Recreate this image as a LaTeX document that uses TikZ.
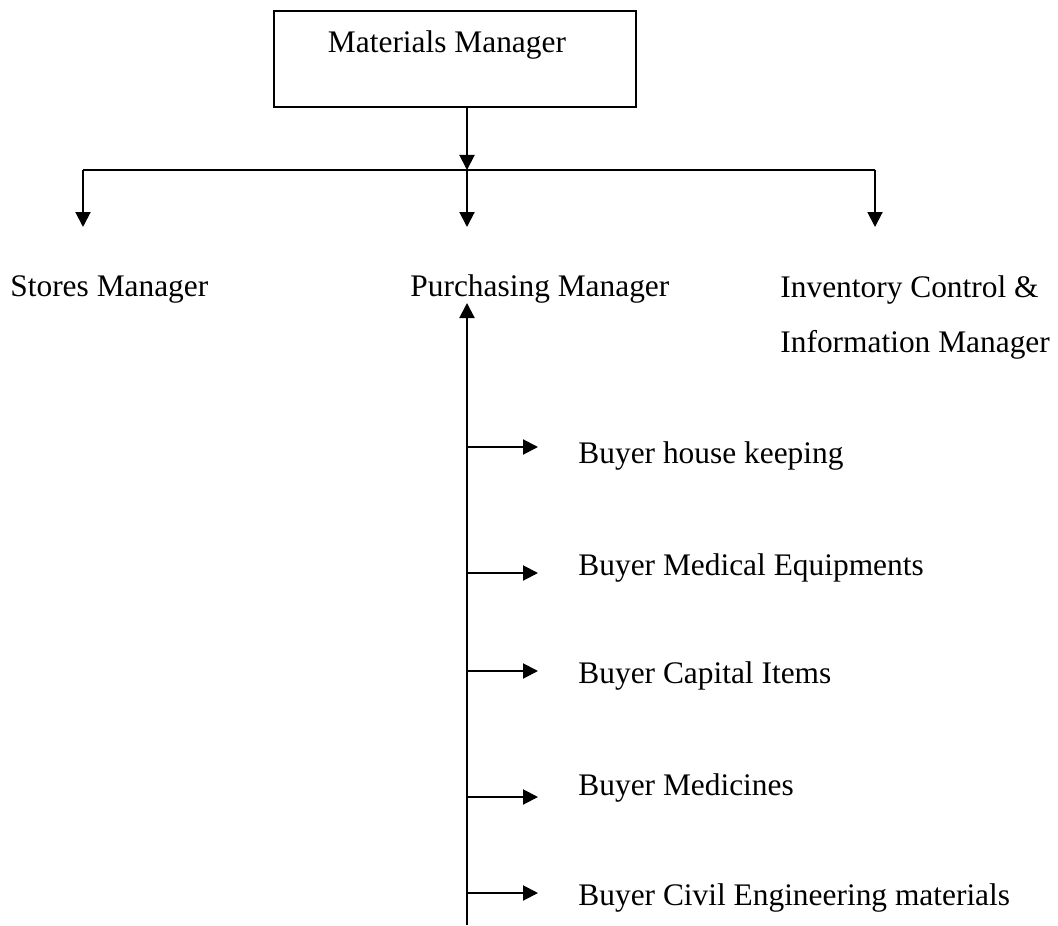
\documentclass[tikz,border=0pt]{standalone}
\usepackage{fontspec}
\setmainfont{Liberation Serif}
\usetikzlibrary{arrows.meta}
\tikzset{
    mgr-box/.style = {draw, line width=1pt, rectangle, minimum width=181pt, minimum height=48pt, text height=10pt, text depth=16pt},
    role-label/.style = {anchor=base west, inner sep=0pt},
    link/.style = {line width=1pt, -{Triangle[length=7.5pt, width=7.5pt]}},
}

\begin{document}
\begin{tikzpicture}[x=0.5pt, y=-0.5pt, every node/.style={font=\fontsize{15.7}{18}\selectfont}]
\useasboundingbox (0,0) rectangle (1058,925);
% top of the chart
\node [mgr-box] (mm) at (455,59) {\hspace*{-8pt}Materials Manager};
\coordinate (jct) at (467,170);
\coordinate (lft) at (83,170);
\coordinate (rgt) at (875,170);
\coordinate (lftend) at (83,227);
\coordinate (midend) at (467,227);
\coordinate (rgtend) at (875,227);
\draw[link] (mm.south -| jct) -- (jct);
\draw[line width=1pt] (lft) -- (rgt);
\draw[link] (lft) -- (lftend);
\draw[link] (jct) -- (midend);
\draw[link] (rgt) -- (rgtend);
% second level
\node[role-label] (sm) at (10,296) {Stores Manager};
\node[role-label] (pm) at (410,296) {Purchasing Manager};
\node[role-label, anchor=north west, align=left, font=\fontsize{15.7}{27.5}\selectfont] (icm) at (780,275) {Inventory Control \&\\Information Manager};
% buyers under purchasing
\coordinate (spine) at (467,925);
\coordinate (ptop) at (467,303);
\draw[link] (spine) -- (ptop);
\foreach \ay/\by/\txt [count=\i] in {447/463/Buyer house keeping, 573/575/Buyer Medical Equipments, 671/683/Buyer Capital Items, 797/795/Buyer Medicines, 893/905/Buyer Civil Engineering materials} {
    \node[role-label] (b\i) at (578,\by) {\txt};
    \coordinate (t\i) at (538,\ay);
    \draw[link] (spine |- t\i) -- (t\i);
}
\end{tikzpicture}
\end{document}
